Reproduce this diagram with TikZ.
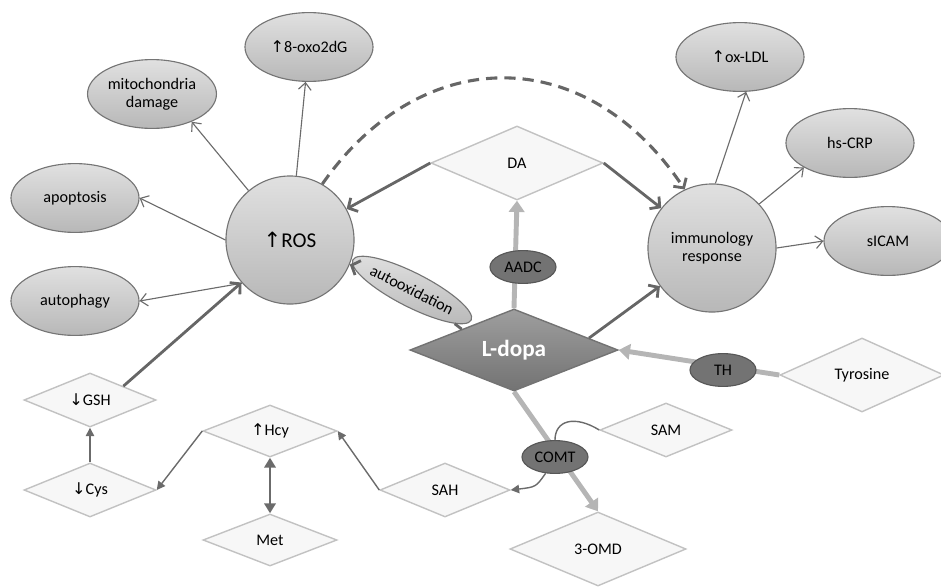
\documentclass[tikz,border=0pt]{standalone}
\usepackage{fontspec}
\setmainfont{Carlito}
\newfontfamily\ArrowFnt{DejaVu Sans}
\usetikzlibrary{arrows.meta,shapes.geometric,backgrounds}
\definecolor{EffectTopClr}{rgb}{0.88,0.88,0.88}
\definecolor{EffectBotClr}{rgb}{0.72,0.72,0.72}
\definecolor{EffectLineClr}{rgb}{0.46,0.46,0.46}
\definecolor{SubstClr}{rgb}{0.97,0.97,0.97}
\definecolor{SubstLineClr}{rgb}{0.76,0.76,0.76}
\definecolor{EnzymeClr}{rgb}{0.45,0.45,0.45}
\definecolor{EnzymeLineClr}{rgb}{0.34,0.34,0.34}
\definecolor{DopaTopClr}{rgb}{0.62,0.62,0.62}
\definecolor{DopaBotClr}{rgb}{0.45,0.45,0.45}
\definecolor{ThinClr}{rgb}{0.42,0.42,0.42}
\definecolor{DarkClr}{rgb}{0.40,0.40,0.40}
\definecolor{LightClr}{rgb}{0.71,0.71,0.71}
\newcommand{\UpA}{{\ArrowFnt ↑}}
\newcommand{\DnA}{{\ArrowFnt ↓}}

\begin{document}
\begin{tikzpicture}[x=0.025cm,y=-0.025cm,
  font=\fontsize{11.5}{13}\selectfont,
  effect/.style={ellipse,draw=EffectLineClr,line width=0.8pt,top color=EffectTopClr,
    bottom color=EffectBotClr,minimum width=3.2cm,minimum height=1.72cm,inner sep=1pt,align=center},
  hub/.style={circle,draw=EffectLineClr,line width=0.8pt,top color=EffectTopClr,
    bottom color=EffectBotClr,minimum size=3.2cm,inner sep=1pt,align=center},
  subst/.style={diamond,draw=SubstLineClr,line width=1pt,fill=SubstClr,inner sep=0pt,
    shape aspect=2.4},
  enzyme/.style={ellipse,draw=EnzymeLineClr,line width=0.8pt,fill=EnzymeClr,
    minimum width=1.65cm,minimum height=0.82cm,inner sep=1pt},
  effectarrow/.style={draw=ThinClr,line width=0.8pt,-{Straight Barb[length=5pt,width=9pt]}},
  mainline/.style={draw=DarkClr,line width=2pt},
  mainarrow/.style={mainline,-{Straight Barb[length=5pt,width=11pt,line width=2pt]}},
  enzarrow/.style={draw=LightClr,line width=3.5pt,-{Triangle[length=8pt,width=11pt]}},
  pathline/.style={draw=ThinClr,line width=1pt},
  patharrow/.style={pathline,-{Triangle[length=6pt,width=6pt]}}]
\useasboundingbox (0,0) rectangle (941,586);

\node[effect] (oxo) at (309,47) {\UpA8-oxo2dG};
\node[effect] (mito) at (152,94) {mitochondria\\damage};
\node[effect] (apop) at (75,198) {apoptosis};
\node[effect] (autoph) at (75,301) {autophagy};
\node[hub,font=\fontsize{15}{17}\selectfont] (ros) at (290,240) {\UpA ROS};
\node[hub] (immun) at (712,248) {immunology\\response};
\node[effect] (oxldl) at (740,57) {\UpA ox-LDL};
\node[effect] (hscrp) at (850,143) {hs-CRP};
\node[effect] (sicam) at (888,241) {sICAM};

\node[subst,minimum width=4.3cm,minimum height=1.85cm] (da) at (517,163) {DA};
\node[diamond,draw=DopaBotClr,line width=1pt,top color=DopaTopClr,bottom color=DopaBotClr,
  minimum width=5.2cm,minimum height=2.05cm,inner sep=0pt,shape aspect=2.4,text=white,
  font=\fontsize{16.5}{18}\selectfont\bfseries] (ldopa) at (514,350) {L-dopa};
\node[subst,minimum width=4.1cm,minimum height=1.85cm] (tyr) at (862,375) {Tyrosine};
\node[subst,minimum width=3.3cm,minimum height=1.35cm] (sam) at (666,430) {SAM};
\node[subst,minimum width=4.4cm,minimum height=1.85cm] (omd) at (598,549) {3-OMD};
\node[subst,minimum width=3.25cm,minimum height=1.35cm] (sah) at (445,490) {SAH};
\node[subst,minimum width=3.35cm,minimum height=1.3cm] (hcy) at (270,431) {\UpA Hcy};
\node[subst,minimum width=3.35cm,minimum height=1.3cm] (met) at (270,540) {Met};
\node[subst,minimum width=3.3cm,minimum height=1.35cm] (gsh) at (90,400) {\DnA GSH};
\node[subst,minimum width=3.3cm,minimum height=1.35cm] (cys) at (90,490) {\DnA Cys};

\node[enzyme] (aadc) at (523,267) {AADC};
\node[enzyme] (th) at (723,370) {TH};
\node[enzyme] (comt) at (555,457) {COMT};
\node[ellipse,draw=EffectLineClr,line width=0.8pt,top color=EffectTopClr,bottom color=EffectBotClr,
  minimum width=2.9cm,minimum height=0.85cm,inner sep=1pt,rotate=-27] (autox) at (412,290) {autooxidation};

\begin{scope}[on background layer]
\draw[enzarrow] (ldopa.north) -- (da.south);
\draw[enzarrow] (tyr.west) -- (ldopa.east);
\draw[enzarrow] (ldopa.south) -- (omd.north);
\end{scope}

\draw[effectarrow] (ros) -- (oxo);
\draw[effectarrow] (ros.130) -- (mito.-35);
\draw[effectarrow] (ros.west) -- (apop.east);
\draw[effectarrow] (ros.222) -- (autoph.east);
\draw[effectarrow] (immun.87) -- (oxldl.-80);
\draw[effectarrow] (immun.43) -- (hscrp.208);
\draw[effectarrow] (immun.east) -- (sicam.west);

\draw[mainarrow] (da.west) -- (ros);
\draw[mainarrow] (da.east) -- (immun);
\draw[mainarrow] (ldopa.9) -- (immun);
\draw[mainline] (ldopa.north west) -- (autox);
\draw[mainarrow] (autox) -- (ros);
\draw[mainarrow] (gsh.north east) -- (ros);
\draw[mainarrow,dash pattern=on 8pt off 5pt,line width=2.2pt]
  (ros.60) .. controls (420,44) and (585,40) .. (immun.115);

\draw[pathline] (sam.west) .. controls (575,415) and (555,420) .. (comt.north);
\draw[patharrow] (comt.240) .. controls (536,487) .. (sah.east);
\draw[patharrow] (sah.west) -- (hcy.east);
\draw[patharrow] (hcy.west) -- (cys.east);
\draw[patharrow] (cys.north) -- (gsh.south);
\draw[pathline,line width=2pt,{Triangle[length=7pt,width=8pt]}-{Triangle[length=7pt,width=8pt]}]
  (hcy.south) -- (met.north);

\end{tikzpicture}
\end{document}
